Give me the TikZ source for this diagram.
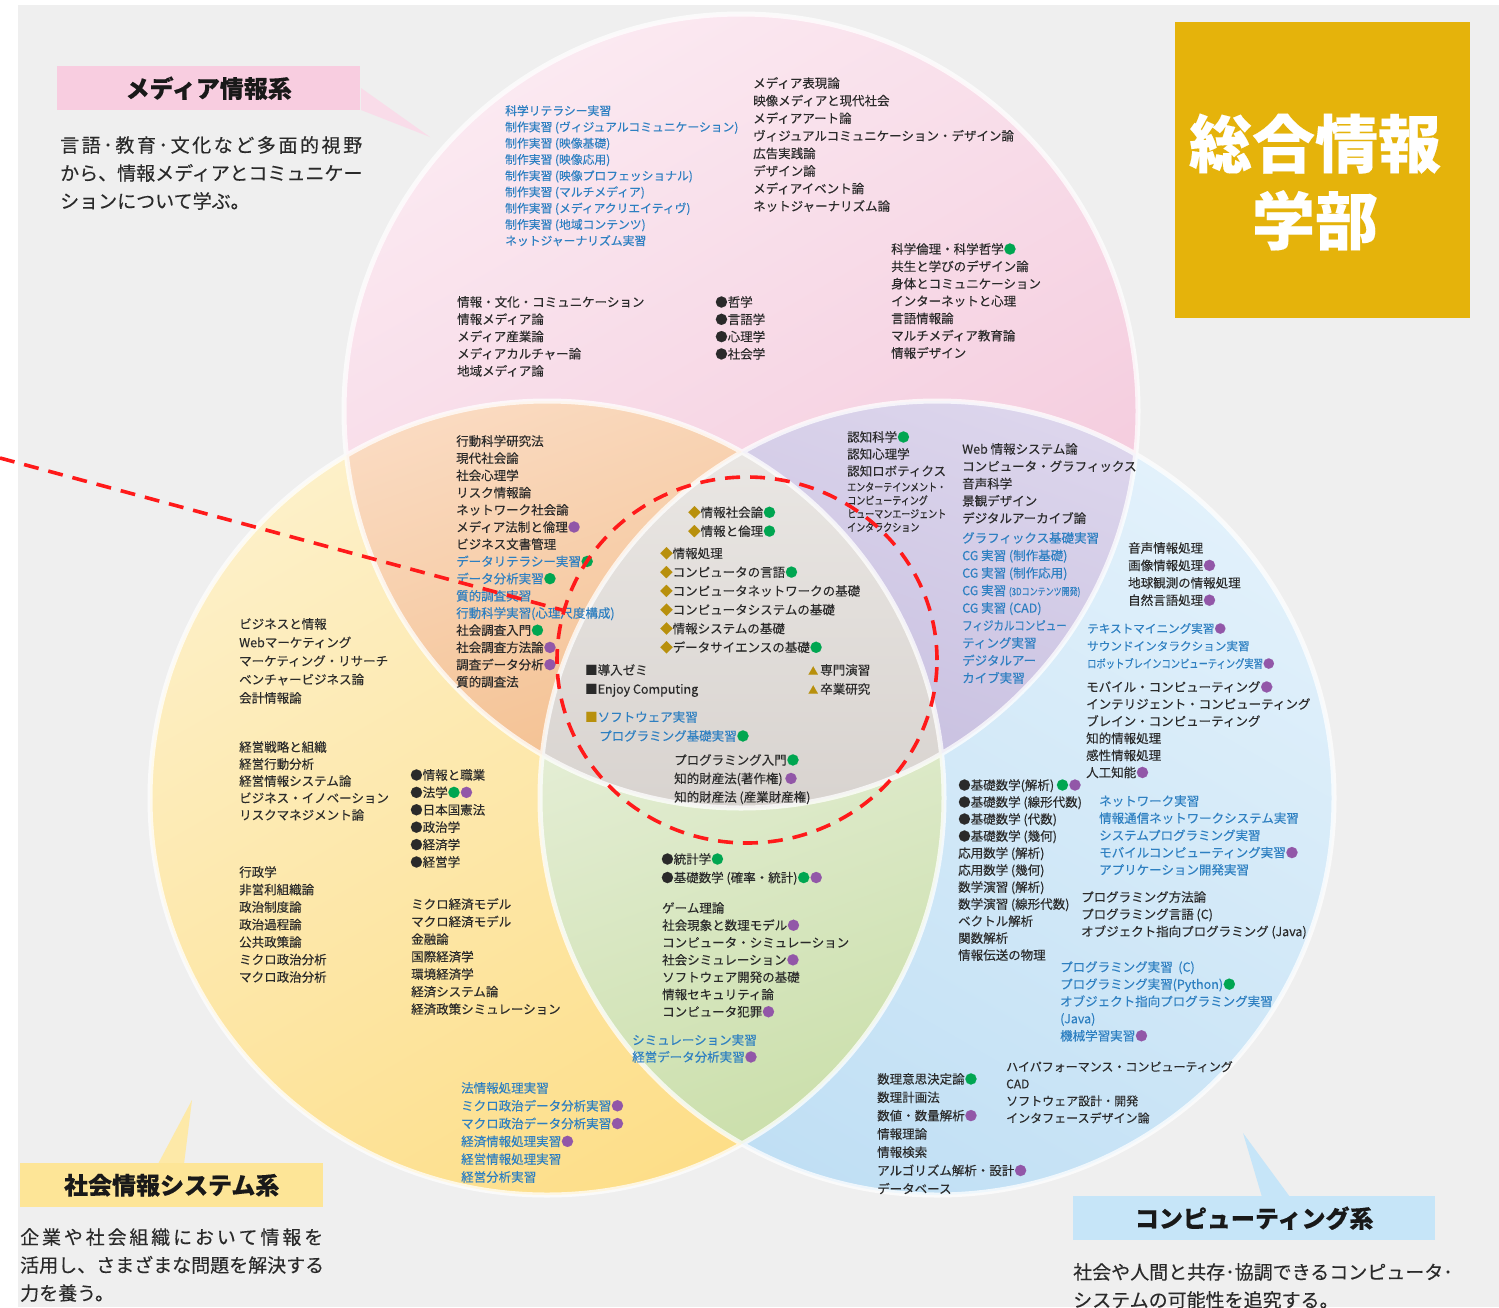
\documentclass[tikz,border=0pt]{standalone}
\usepackage{fontspec}
\setmainfont{Noto Sans CJK JP}[FakeBold=0.2]
\usepackage{graphicx}
\usetikzlibrary{shapes.geometric}
\definecolor{bgg}{HTML}{EFEFEF}
\definecolor{pinkA}{HTML}{FBE9F1}\definecolor{pinkB}{HTML}{F3C6DA}
\definecolor{yelA}{HTML}{FDF0C8}\definecolor{yelB}{HTML}{FDDE88}
\definecolor{bluA}{HTML}{E2F1FB}\definecolor{bluB}{HTML}{C0DFF4}
\definecolor{oraA}{HTML}{FADAC0}\definecolor{oraB}{HTML}{F3BE8C}
\definecolor{purA}{HTML}{DCD5EC}\definecolor{purB}{HTML}{C6BEDF}
\definecolor{grnA}{HTML}{E3EDD3}\definecolor{grnB}{HTML}{C9DEA8}
\definecolor{gryA}{HTML}{EAE7E4}\definecolor{gryB}{HTML}{D8D3CF}
\definecolor{pinkT}{HTML}{F8CDE0}\definecolor{pinkP}{HTML}{F9DCE9}
\definecolor{yelT}{HTML}{FDE597}\definecolor{yelP}{HTML}{FDE9A8}
\definecolor{bluT}{HTML}{C6E5F8}
\definecolor{hdr}{HTML}{E5B30B}
\definecolor{tx}{HTML}{2A2A2A}
\definecolor{tb}{HTML}{2D7FC1}
\definecolor{dg}{HTML}{00A651}
\definecolor{dp}{HTML}{9257A8}
\definecolor{gd}{HTML}{B8900C}
\definecolor{rd}{HTML}{FF1A1A}
\newcommand{\dotg}{{\color{dg}●}}
\newcommand{\dotp}{{\color{dp}●}}
\newcommand{\blu}[1]{{\color{tb}#1}}
\newcommand{\dia}{{\color{gd}◆}}
\newcommand{\trg}{{\color{gd}\fontsize{10}{10}\selectfont▲}\,}
\newcommand{\sqk}{■}
\newcommand{\cnd}[2]{\scalebox{#1}[1]{#2}}
\tikzset{
  lst/.style={anchor=north west, inner sep=0pt, align=left, text=tx, font=\fontsize{12.5}{#1}\selectfont},
  lst/.default=17.4,
  lstb/.style={lst=#1, text=tb},
  lstb/.default=17.4,
  desc/.style={anchor=north west, inner sep=0pt, align=left, text=tx, font=\fontsize{19}{28}\selectfont},
  titlebox/.style={anchor=north west, inner sep=0pt, text=black!90, font=\fontsize{24}{28}\selectfont\bfseries},
  bord/.style={white, line width=5pt, opacity=.75},
  reddash/.style={rd, line width=3.6pt, dash pattern=on 15pt off 10pt},
}
\begin{document}
\begin{tikzpicture}[x=1pt,y=-1pt]
\useasboundingbox (0,0) rectangle (1499,1307);
\fill[white] (0,0) rectangle (1499,1307);
\fill[bgg] (18,5) rectangle (1499,1307);

% main circles
\shade[top color=pinkA, bottom color=pinkB, shading angle=30] (741,411) circle (397pt);
\shade[top color=yelA, bottom color=yelB, shading angle=30] (547,798) circle (397pt);
\shade[top color=bluA, bottom color=bluB, shading angle=-30] (937,798) circle (397pt);
% pink & yellow
\begin{scope}
\clip (741,411) circle (397pt);
\clip (547,798) circle (397pt);
\shade[top color=oraA, bottom color=oraB, shading angle=20] (340,395) rectangle (760,815);
\end{scope}
% pink & blue
\begin{scope}
\clip (741,411) circle (397pt);
\clip (937,798) circle (397pt);
\shade[top color=purA, bottom color=purB, shading angle=-20] (720,395) rectangle (1145,815);
\end{scope}
% yellow & blue
\begin{scope}
\clip (547,798) circle (397pt);
\clip (937,798) circle (397pt);
\shade[top color=grnA, bottom color=grnB, shading angle=20] (535,700) rectangle (950,1180);
\end{scope}
% all three
\begin{scope}
\clip (741,411) circle (397pt);
\clip (547,798) circle (397pt);
\clip (937,798) circle (397pt);
\shade[top color=gryA, bottom color=gryB] (535,440) rectangle (950,815);
\end{scope}
\draw[bord] (741,411) circle (397pt) (547,798) circle (397pt) (937,798) circle (397pt);

% header box
\node[fill=hdr, minimum width=295pt, minimum height=296pt, inner sep=0pt, anchor=north west] (hbox) at (1175,22) {};
\node[align=center, text=white, inner sep=0pt, font=\fontsize{63}{77}\selectfont\bfseries] (htext) at (1315,182) {総合情報\\学部};

% title labels with pointers
\fill[pinkP] (361,88) -- (430,137) -- (361,110) -- cycle;
\node[titlebox, fill=pinkT, minimum width=303pt, minimum height=44pt] (tMedia) at (57,66) {メディア情報系};
\node[desc] (dMedia) at (60,136) {\makebox[302pt][s]{言\hfil 語\hfil ･\hfil 教\hfil 育\hfil ･\hfil 文\hfil 化\hfil な\hfil ど\hfil 多\hfil 面\hfil 的\hfil 視\hfil 野}\\から、情報メディアとコミュニケー\\ションについて学ぶ。};

\fill[yelP] (158,1164) -- (192,1100) -- (184,1164) -- cycle;
\node[titlebox, fill=yelT, minimum width=303pt, minimum height=44pt] (tSocial) at (20,1163) {社会情報システム系};
\node[desc] (dSocial) at (20,1228) {\makebox[303pt][s]{企\hfil 業\hfil や\hfil 社\hfil 会\hfil 組\hfil 織\hfil に\hfil お\hfil い\hfil て\hfil 情\hfil 報\hfil を}\\活用し、さまざまな問題を解決する\\力を養う。};

\fill[bluT] (1262,1197) -- (1243,1133) -- (1290,1197) -- cycle;
\node[titlebox, fill=bluT, minimum width=362pt, minimum height=44pt] (tComp) at (1073,1196) {コンピューティング系};
\node[desc] (dComp) at (1073,1263) {社会や人間と共存･協調できるコンピュータ･\\システムの可能性を追究する。};

% ---------- pink region
\node[lstb=16.25, font=\fontsize{11.8}{16.25}\selectfont] (pA) at (505,105) {科学リテラシー実習\\制作実習 (ヴィジュアルコミュニケーション)\\制作実習 (映像基礎)\\制作実習 (映像応用)\\制作実習 (映像プロフェッショナル)\\制作実習 (マルチメディア)\\制作実習 (メディアクリエイティヴ)\\制作実習 (地域コンテンツ)\\ネットジャーナリズム実習};
\node[lst=17.57] (pB) at (753,77) {メディア表現論\\映像メディアと現代社会\\メディアアート論\\ヴィジュアルコミュニケーション・デザイン論\\広告実践論\\デザイン論\\メディアイベント論\\ネットジャーナリズム論};
\node[lst=17.33] (pC) at (891,243) {科学倫理・科学哲学\dotg\\共生と学びのデザイン論\\身体とコミュニケーション\\インターネットと心理\\言語情報論\\マルチメディア教育論\\情報デザイン};
\node[lst=17.25] (pD) at (457,296) {情報・文化・コミュニケーション\\情報メディア論\\メディア産業論\\メディアカルチャー論\\地域メディア論};
\node[lst=17.3] (pE) at (715,296) {●哲学\\●言語学\\●心理学\\●社会学};

% ---------- orange region
\node[lst=17.2] (oF) at (456,435) {行動科学研究法\\現代社会論\\社会心理学\\リスク情報論\\ネットワーク社会論\\メディア法制と倫理\dotp\\ビジネス文書管理\\\blu{データリテラシー実習}\dotg\\\blu{データ分析実習}\dotg\\\blu{質的調査実習}\\\blu{行動科学実習(心理尺度構成)}\\社会調査入門\dotg\\社会調査方法論\dotp\\調査データ分析\dotp\\質的調査法};

% ---------- purple region
\node[lst=17] (uG) at (847,431) {認知科学\dotg\\認知心理学\\認知ロボティクス};
\node[lst=13.4, font=\fontsize{11}{13.4}\selectfont] (uG2) at (847,482) {\cnd{0.82}{エンターテインメント・}\\\cnd{0.82}{コンピューティング}\\\cnd{0.82}{ヒューマンエージェント}\\\cnd{0.82}{インタラクション}};
\node[lst=17.3] (uH) at (962,443) {Web 情報システム論\\コンピュータ・グラフィックス\\音声科学\\景観デザイン\\デジタルアーカイブ論};
\node[lstb=17.5] (uH2) at (962,532) {グラフィックス基礎実習\\CG 実習 (制作基礎)\\CG 実習 (制作応用)\\CG 実習 {\fontsize{10}{10}\selectfont\cnd{0.8}{(3Dコンテンツ開発)}}\\CG 実習 (CAD)\\\cnd{0.84}{フィジカルコンピュー}\\ティング実習\\デジタルアー\\カイブ実習};

% ---------- blue region
\node[lst=17.4] (bI) at (1128,542) {音声情報処理\\画像情報処理\dotp\\地球観測の情報処理\\自然言語処理\dotp};
\node[lstb=17.5, font=\fontsize{11.6}{17.5}\selectfont] (bJ) at (1087,623) {テキストマイニング実習\dotp\\サウンドインタラクション実習\\\cnd{0.8}{ロボットブレインコンピューティング実習}\dotp};
\node[lst=17.1] (bK) at (1086,681) {モバイル・コンピューティング\dotp\\インテリジェント・コンピューティング\\ブレイン・コンピューティング\\知的情報処理\\感性情報処理\\人工知能\dotp};
\node[lst=17] (bL) at (958,779) {●基礎数学(解析)\,\dotg\dotp\\●基礎数学 (線形代数)\\●基礎数学 (代数)\\●基礎数学 (幾何)\\応用数学 (解析)\\応用数学 (幾何)\\数学演習 (解析)\\数学演習 (線形代数)\\ベクトル解析\\関数解析\\情報伝送の物理};
\node[lstb=17.2] (bM) at (1099,795) {ネットワーク実習\\情報通信ネットワークシステム実習\\システムプログラミング実習\\モバイルコンピューティング実習\dotp\\アプリケーション開発実習};
\node[lst=17.2] (bN) at (1081,891) {プログラミング方法論\\プログラミング言語 (C)\\オブジェクト指向プログラミング (Java)};
\node[lstb=17.2] (bO) at (1060,961) {プログラミング実習\ \ (C)\\プログラミング実習(Python)\dotg\\オブジェクト指向プログラミング実習\\(Java)\\機械学習実習\dotp};
\node[lst=18.3] (bP) at (877,1073) {数理意思決定論\dotg\\数理計画法\\数値・数量解析\dotp\\情報理論\\情報検索\\アルゴリズム解析・設計\dotp\\データベース};
\node[lst=17.1, font=\fontsize{12}{17.1}\selectfont] (bQ) at (1006,1061) {ハイパフォーマンス・コンピューティング\\CAD\\ソフトウェア設計・開発\\インタフェースデザイン論};

% ---------- green region
\node[lst=18.5] (gR) at (661,853) {●統計学\dotg\\●基礎数学 (確率・統計)\dotg\dotp};
\node[lst=17.3] (gS) at (662,902) {ゲーム理論\\社会現象と数理モデル\dotp\\コンピュータ・シミュレーション\\社会シミュレーション\dotp\\ソフトウェア開発の基礎\\情報セキュリティ論\\コンピュータ犯罪\dotp};
\node[lstb=17] (gT) at (632,1034) {シミュレーション実習\\経営データ分析実習\dotp};

% ---------- yellow region
\node[lst=18.5] (yU) at (239,618) {ビジネスと情報\\Webマーケティング\\マーケティング・リサーチ\\ベンチャービジネス論\\会計情報論};
\node[lst=17] (yV) at (239,741) {経営戦略と組織\\経営行動分析\\経営情報システム論\\ビジネス・イノベーション\\リスクマネジメント論};
\node[lst=17.5] (yW) at (239,866) {行政学\\非営利組織論\\政治制度論\\政治過程論\\公共政策論\\ミクロ政治分析\\マクロ政治分析};
\node[lst=17.4] (yX) at (410,769) {●情報と職業\\●法学\dotg\dotp\\●日本国憲法\\●政治学\\●経済学\\●経営学};
\node[lst=17.5] (yY) at (411,898) {ミクロ経済モデル\\マクロ経済モデル\\金融論\\国際経済学\\環境経済学\\経済システム論\\経済政策シミュレーション};
\node[lstb=17.8] (yZ) at (461,1082) {法情報処理実習\\ミクロ政治データ分析実習\dotp\\マクロ政治データ分析実習\dotp\\経済情報処理実習\dotp\\経営情報処理実習\\経営分析実習};

% ---------- center region
\node[lst=18.8] (cA) at (688,506) {\dia 情報社会論\dotg\\\dia 情報と倫理\dotg};
\node[lst=18.8] (cB) at (660,547) {\dia 情報処理\\\dia コンピュータの言語\dotg\\\dia コンピュータネットワークの基礎\\\dia コンピュータシステムの基礎\\\dia 情報システムの基礎\\\dia データサイエンスの基礎\dotg};
\node[lst=19] (cC) at (585,664) {\sqk 導入ゼミ\\\sqk Enjoy Computing};
\node[lst=19] (cD) at (808,664) {\trg 専門演習\\\trg 卒業研究};
\node[lst=19] (cE) at (585,711) {{\color{gd}\sqk}\blu{ソフトウェア実習}\\\hspace*{14pt}\blu{プログラミング基礎実習}\dotg};
\node[lst=18.5] (cF) at (674,754) {プログラミング入門\dotg\\知的財産法(著作権)\,\dotp\\知的財産法 (産業財産権)};

% ---------- red dashed focus
\node[ellipse, draw=rd, line width=3.6pt, dash pattern=on 15pt off 10pt, minimum width=380pt, minimum height=366pt, inner sep=0pt] (core) at (747,660) {};
\coordinate (lstart) at (0,458);
\draw[reddash] (lstart) -- (core);
\end{tikzpicture}
\end{document}
